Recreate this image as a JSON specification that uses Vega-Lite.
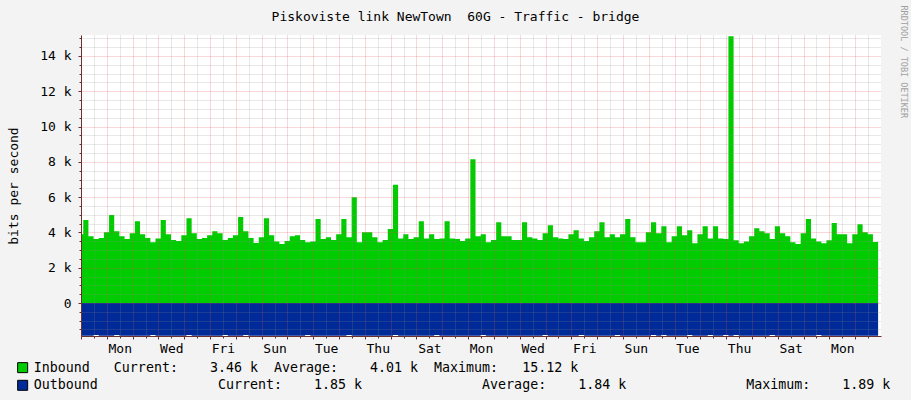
{
  "$schema": "https://vega.github.io/schema/vega-lite/v6.json",
  "width": 800,
  "height": 301,
  "autosize": {"type": "none"},
  "padding": {"left": 81, "top": 35, "right": 30, "bottom": 64},
  "background": "#f3f3f3",
  "config": {
    "font": "DejaVu Sans Mono",
    "view": {"stroke": null, "fill": "#ffffff"},
    "axis": {"labelFont": "DejaVu Sans Mono", "labelFontSize": 13, "labelColor": "#000000", "titleFont": "DejaVu Sans Mono", "titleFontSize": 13, "titleFontWeight": "normal", "titleColor": "#000000", "domainColor": "#6a3030", "tickColor": "#6a3030"}
  },
  "title": {"text": "Piskoviste link NewTown\u00a0 60G - Traffic - bridge", "anchor": "middle", "frame": "group", "dx": -25.5, "dy": 45, "offset": 16, "baseline": "alphabetic", "font": "DejaVu Sans Mono", "fontSize": 13, "fontWeight": "normal", "color": "#000000"},
  "data": {"values": [
    {"t":"2024-01-07T00:00:00Z","in":3890,"out":-1860},
    {"t":"2024-01-07T02:06:00Z","in":4700,"out":-1860},
    {"t":"2024-01-07T06:54:00Z","in":3780,"out":-1860},
    {"t":"2024-01-07T11:42:00Z","in":3630,"out":-1815},
    {"t":"2024-01-07T16:30:00Z","in":3680,"out":-1860},
    {"t":"2024-01-07T21:18:00Z","in":4010,"out":-1860},
    {"t":"2024-01-08T02:06:00Z","in":4990,"out":-1860},
    {"t":"2024-01-08T06:54:00Z","in":4070,"out":-1815},
    {"t":"2024-01-08T11:42:00Z","in":3780,"out":-1860},
    {"t":"2024-01-08T16:30:00Z","in":3630,"out":-1860},
    {"t":"2024-01-08T21:18:00Z","in":3950,"out":-1860},
    {"t":"2024-01-09T02:06:00Z","in":4640,"out":-1860},
    {"t":"2024-01-09T06:54:00Z","in":3890,"out":-1860},
    {"t":"2024-01-09T11:42:00Z","in":3680,"out":-1860},
    {"t":"2024-01-09T16:30:00Z","in":3440,"out":-1815},
    {"t":"2024-01-09T21:18:00Z","in":3660,"out":-1860},
    {"t":"2024-01-10T02:06:00Z","in":4700,"out":-1860},
    {"t":"2024-01-10T06:54:00Z","in":3890,"out":-1860},
    {"t":"2024-01-10T11:42:00Z","in":3570,"out":-1860},
    {"t":"2024-01-10T16:30:00Z","in":3510,"out":-1860},
    {"t":"2024-01-10T21:18:00Z","in":3840,"out":-1860},
    {"t":"2024-01-11T02:06:00Z","in":4810,"out":-1815},
    {"t":"2024-01-11T06:54:00Z","in":3950,"out":-1860},
    {"t":"2024-01-11T11:42:00Z","in":3630,"out":-1860},
    {"t":"2024-01-11T16:30:00Z","in":3680,"out":-1860},
    {"t":"2024-01-11T21:18:00Z","in":3840,"out":-1860},
    {"t":"2024-01-12T02:06:00Z","in":4070,"out":-1860},
    {"t":"2024-01-12T06:54:00Z","in":3950,"out":-1860},
    {"t":"2024-01-12T11:42:00Z","in":3570,"out":-1815},
    {"t":"2024-01-12T16:30:00Z","in":3680,"out":-1860},
    {"t":"2024-01-12T21:18:00Z","in":3840,"out":-1860},
    {"t":"2024-01-13T02:06:00Z","in":4870,"out":-1860},
    {"t":"2024-01-13T06:54:00Z","in":4070,"out":-1815},
    {"t":"2024-01-13T11:42:00Z","in":3680,"out":-1860},
    {"t":"2024-01-13T16:30:00Z","in":3400,"out":-1860},
    {"t":"2024-01-13T21:18:00Z","in":3720,"out":-1860},
    {"t":"2024-01-14T02:06:00Z","in":4810,"out":-1860},
    {"t":"2024-01-14T06:54:00Z","in":3840,"out":-1860},
    {"t":"2024-01-14T11:42:00Z","in":3490,"out":-1860},
    {"t":"2024-01-14T16:30:00Z","in":3340,"out":-1860},
    {"t":"2024-01-14T21:18:00Z","in":3510,"out":-1860},
    {"t":"2024-01-15T02:06:00Z","in":3780,"out":-1860},
    {"t":"2024-01-15T06:54:00Z","in":3840,"out":-1860},
    {"t":"2024-01-15T11:42:00Z","in":3570,"out":-1860},
    {"t":"2024-01-15T16:30:00Z","in":3440,"out":-1815},
    {"t":"2024-01-15T21:18:00Z","in":3490,"out":-1860},
    {"t":"2024-01-16T02:06:00Z","in":4760,"out":-1860},
    {"t":"2024-01-16T06:54:00Z","in":3630,"out":-1860},
    {"t":"2024-01-16T11:42:00Z","in":3720,"out":-1860},
    {"t":"2024-01-16T16:30:00Z","in":3570,"out":-1860},
    {"t":"2024-01-16T21:18:00Z","in":3890,"out":-1860},
    {"t":"2024-01-17T02:06:00Z","in":4760,"out":-1860},
    {"t":"2024-01-17T06:54:00Z","in":3720,"out":-1815},
    {"t":"2024-01-17T11:42:00Z","in":6000,"out":-1860},
    {"t":"2024-01-17T16:30:00Z","in":3440,"out":-1860},
    {"t":"2024-01-17T21:18:00Z","in":4010,"out":-1860},
    {"t":"2024-01-18T02:06:00Z","in":4010,"out":-1860},
    {"t":"2024-01-18T06:54:00Z","in":3720,"out":-1860},
    {"t":"2024-01-18T11:42:00Z","in":3440,"out":-1860},
    {"t":"2024-01-18T16:30:00Z","in":3570,"out":-1860},
    {"t":"2024-01-18T21:18:00Z","in":4200,"out":-1860},
    {"t":"2024-01-19T02:06:00Z","in":6700,"out":-1815},
    {"t":"2024-01-19T06:54:00Z","in":3660,"out":-1860},
    {"t":"2024-01-19T11:42:00Z","in":3890,"out":-1860},
    {"t":"2024-01-19T16:30:00Z","in":3630,"out":-1860},
    {"t":"2024-01-19T21:18:00Z","in":3720,"out":-1860},
    {"t":"2024-01-20T02:06:00Z","in":4640,"out":-1860},
    {"t":"2024-01-20T06:54:00Z","in":3660,"out":-1860},
    {"t":"2024-01-20T11:42:00Z","in":3890,"out":-1860},
    {"t":"2024-01-20T16:30:00Z","in":3630,"out":-1815},
    {"t":"2024-01-20T21:18:00Z","in":3660,"out":-1860},
    {"t":"2024-01-21T02:06:00Z","in":4640,"out":-1860},
    {"t":"2024-01-21T06:54:00Z","in":3660,"out":-1860},
    {"t":"2024-01-21T11:42:00Z","in":3630,"out":-1860},
    {"t":"2024-01-21T16:30:00Z","in":3510,"out":-1860},
    {"t":"2024-01-21T21:18:00Z","in":3660,"out":-1860},
    {"t":"2024-01-22T02:06:00Z","in":8150,"out":-1860},
    {"t":"2024-01-22T06:54:00Z","in":3780,"out":-1860},
    {"t":"2024-01-22T11:42:00Z","in":3890,"out":-1815},
    {"t":"2024-01-22T16:30:00Z","in":3440,"out":-1860},
    {"t":"2024-01-22T21:18:00Z","in":3570,"out":-1860},
    {"t":"2024-01-23T02:06:00Z","in":4580,"out":-1860},
    {"t":"2024-01-23T06:54:00Z","in":3780,"out":-1860},
    {"t":"2024-01-23T11:42:00Z","in":3780,"out":-1860},
    {"t":"2024-01-23T16:30:00Z","in":3570,"out":-1860},
    {"t":"2024-01-23T21:18:00Z","in":3570,"out":-1860},
    {"t":"2024-01-24T02:06:00Z","in":4580,"out":-1860},
    {"t":"2024-01-24T06:54:00Z","in":3720,"out":-1860},
    {"t":"2024-01-24T11:42:00Z","in":3660,"out":-1860},
    {"t":"2024-01-24T16:30:00Z","in":3570,"out":-1860},
    {"t":"2024-01-24T21:18:00Z","in":3950,"out":-1815},
    {"t":"2024-01-25T02:06:00Z","in":4410,"out":-1860},
    {"t":"2024-01-25T06:54:00Z","in":3720,"out":-1860},
    {"t":"2024-01-25T11:42:00Z","in":3660,"out":-1860},
    {"t":"2024-01-25T16:30:00Z","in":3630,"out":-1860},
    {"t":"2024-01-25T21:18:00Z","in":3890,"out":-1860},
    {"t":"2024-01-26T02:06:00Z","in":4120,"out":-1860},
    {"t":"2024-01-26T06:54:00Z","in":3660,"out":-1815},
    {"t":"2024-01-26T11:42:00Z","in":3510,"out":-1860},
    {"t":"2024-01-26T16:30:00Z","in":3720,"out":-1860},
    {"t":"2024-01-26T21:18:00Z","in":4070,"out":-1860},
    {"t":"2024-01-27T02:06:00Z","in":4580,"out":-1860},
    {"t":"2024-01-27T06:54:00Z","in":3720,"out":-1860},
    {"t":"2024-01-27T11:42:00Z","in":3890,"out":-1860},
    {"t":"2024-01-27T16:30:00Z","in":3720,"out":-1815},
    {"t":"2024-01-27T21:18:00Z","in":3890,"out":-1860},
    {"t":"2024-01-28T02:06:00Z","in":4760,"out":-1860},
    {"t":"2024-01-28T06:54:00Z","in":3720,"out":-1860},
    {"t":"2024-01-28T11:42:00Z","in":3440,"out":-1860},
    {"t":"2024-01-28T16:30:00Z","in":3440,"out":-1860},
    {"t":"2024-01-28T21:18:00Z","in":4010,"out":-1860},
    {"t":"2024-01-29T02:06:00Z","in":4580,"out":-1815},
    {"t":"2024-01-29T06:54:00Z","in":3950,"out":-1860},
    {"t":"2024-01-29T11:42:00Z","in":4350,"out":-1815},
    {"t":"2024-01-29T16:30:00Z","in":3440,"out":-1860},
    {"t":"2024-01-29T21:18:00Z","in":3780,"out":-1860},
    {"t":"2024-01-30T02:06:00Z","in":4350,"out":-1860},
    {"t":"2024-01-30T06:54:00Z","in":3840,"out":-1860},
    {"t":"2024-01-30T11:42:00Z","in":4120,"out":-1815},
    {"t":"2024-01-30T16:30:00Z","in":3380,"out":-1860},
    {"t":"2024-01-30T21:18:00Z","in":3890,"out":-1860},
    {"t":"2024-01-31T02:06:00Z","in":4350,"out":-1860},
    {"t":"2024-01-31T06:54:00Z","in":3660,"out":-1815},
    {"t":"2024-01-31T11:42:00Z","in":4350,"out":-1860},
    {"t":"2024-01-31T16:30:00Z","in":3660,"out":-1860},
    {"t":"2024-01-31T21:18:00Z","in":3630,"out":-1815},
    {"t":"2024-02-01T02:06:00Z","in":15120,"out":-1860},
    {"t":"2024-02-01T06:54:00Z","in":3550,"out":-1815},
    {"t":"2024-02-01T11:42:00Z","in":3380,"out":-1860},
    {"t":"2024-02-01T16:30:00Z","in":3490,"out":-1860},
    {"t":"2024-02-01T21:18:00Z","in":3780,"out":-1860},
    {"t":"2024-02-02T02:06:00Z","in":4240,"out":-1860},
    {"t":"2024-02-02T06:54:00Z","in":4070,"out":-1860},
    {"t":"2024-02-02T11:42:00Z","in":3950,"out":-1860},
    {"t":"2024-02-02T16:30:00Z","in":3630,"out":-1815},
    {"t":"2024-02-02T21:18:00Z","in":4350,"out":-1860},
    {"t":"2024-02-03T02:06:00Z","in":3950,"out":-1860},
    {"t":"2024-02-03T06:54:00Z","in":3780,"out":-1860},
    {"t":"2024-02-03T11:42:00Z","in":3440,"out":-1860},
    {"t":"2024-02-03T16:30:00Z","in":3340,"out":-1860},
    {"t":"2024-02-03T21:18:00Z","in":3950,"out":-1860},
    {"t":"2024-02-04T02:06:00Z","in":4760,"out":-1860},
    {"t":"2024-02-04T06:54:00Z","in":3660,"out":-1860},
    {"t":"2024-02-04T11:42:00Z","in":3490,"out":-1815},
    {"t":"2024-02-04T16:30:00Z","in":3380,"out":-1860},
    {"t":"2024-02-04T21:18:00Z","in":3550,"out":-1860},
    {"t":"2024-02-05T02:06:00Z","in":4530,"out":-1860},
    {"t":"2024-02-05T06:54:00Z","in":3890,"out":-1860},
    {"t":"2024-02-05T11:42:00Z","in":3890,"out":-1860},
    {"t":"2024-02-05T16:30:00Z","in":3380,"out":-1860},
    {"t":"2024-02-05T21:18:00Z","in":3890,"out":-1860},
    {"t":"2024-02-06T02:06:00Z","in":4470,"out":-1860},
    {"t":"2024-02-06T06:54:00Z","in":4010,"out":-1860},
    {"t":"2024-02-06T11:42:00Z","in":3890,"out":-1860},
    {"t":"2024-02-06T16:30:00Z","in":3460,"out":-1850},
    {"t":"2024-02-06T21:18:00Z","in":3460,"out":-1850}
  ]},
  "layer": [
    {
      "mark": {"type": "area", "interpolate": "step-after"},
      "encoding": {
        "x": {"field": "t", "type": "temporal", "scale": {"type": "utc", "domain": [1704585600000, 1707264000000]},
          "axis": {"orient": "bottom", "values": [1704628800000,1704715200000,1704801600000,1704888000000,1704974400000,1705060800000,1705147200000,1705233600000,1705320000000,1705406400000,1705492800000,1705579200000,1705665600000,1705752000000,1705838400000,1705924800000,1706011200000,1706097600000,1706184000000,1706270400000,1706356800000,1706443200000,1706529600000,1706616000000,1706702400000,1706788800000,1706875200000,1706961600000,1707048000000,1707134400000,1707220800000],
            "grid": true, "gridColor": "#8f8f8f", "gridOpacity": 0.4, "gridDash": [1, 1], "labels": false, "ticks": true, "tickSize": 2, "domain": false, "title": null, "zindex": 1}},
        "y": {"field": "out", "type": "quantitative", "scale": {"domain": [-1870, 15190], "nice": false, "zero": false},
          "axis": {"orient": "left", "values": [-1500,-1000,-500,500,1000,1500,2500,3000,3500,4500,5000,5500,6500,7000,7500,8500,9000,9500,10500,11000,11500,12500,13000,13500,14500,15000],
            "grid": true, "gridColor": "#8f8f8f", "gridOpacity": 0.4, "gridDash": [1, 1], "labels": false, "ticks": true, "tickSize": 2, "domain": false, "title": null, "zindex": 1}},
        "color": {"datum": "Outbound", "type": "nominal", "scale": {"domain": ["Inbound", "Outbound"], "range": ["#00cc00", "#002a97"]},
          "legend": {"orient": "none", "legendX": -65, "legendY": 326, "title": null, "direction": "vertical", "symbolType": "square", "symbolSize": 100, "symbolStrokeColor": "#000000", "symbolStrokeWidth": 1, "symbolOpacity": 1, "labelFont": "DejaVu Sans Mono", "labelFontSize": 13.3, "labelColor": "#000000", "labelLimit": 1000, "labelOffset": 4.5, "rowPadding": 2.65, "padding": 0,
            "labelExpr": "datum.label == 'Inbound' ? 'Inbound\u00a0\u00a0\u00a0Current:\u00a0\u00a0\u00a0\u00a03.46\u00a0k\u00a0\u00a0Average:\u00a0\u00a0\u00a0\u00a04.01\u00a0k\u00a0\u00a0Maximum:\u00a0\u00a0\u00a015.12\u00a0k' : 'Outbound\u00a0\u00a0\u00a0\u00a0\u00a0\u00a0\u00a0\u00a0\u00a0\u00a0\u00a0\u00a0\u00a0\u00a0\u00a0Current:\u00a0\u00a0\u00a0\u00a01.85\u00a0k\u00a0\u00a0\u00a0\u00a0\u00a0\u00a0\u00a0\u00a0\u00a0\u00a0\u00a0\u00a0\u00a0\u00a0\u00a0Average:\u00a0\u00a0\u00a0\u00a01.84\u00a0k\u00a0\u00a0\u00a0\u00a0\u00a0\u00a0\u00a0\u00a0\u00a0\u00a0\u00a0\u00a0\u00a0\u00a0\u00a0Maximum:\u00a0\u00a0\u00a0\u00a01.89\u00a0k'"}}
      }
    },
    {
      "mark": {"type": "area", "interpolate": "step-after"},
      "encoding": {
        "x": {"field": "t", "type": "temporal",
          "axis": {"orient": "bottom", "values": [1704585600000,1704672000000,1704758400000,1704844800000,1704931200000,1705017600000,1705104000000,1705190400000,1705276800000,1705363200000,1705449600000,1705536000000,1705622400000,1705708800000,1705795200000,1705881600000,1705968000000,1706054400000,1706140800000,1706227200000,1706313600000,1706400000000,1706486400000,1706572800000,1706659200000,1706745600000,1706832000000,1706918400000,1707004800000,1707091200000,1707177600000],
            "grid": true, "gridColor": "#de5050", "gridOpacity": 0.45, "gridDash": [1, 1], "labels": true, "labelExpr": "round((datum.value - 1704585600000) / 86400000) % 2 == 1 ? utcFormat(datum.value, '%a') : ''", "labelOffset": 12.9, "labelPadding": 3, "labelFlush": false, "labelOverlap": false, "ticks": true, "tickSize": 3, "domain": true, "title": null, "zindex": 1}},
        "y": {"field": "in", "type": "quantitative",
          "axis": {"orient": "left", "values": [0,2000,4000,6000,8000,10000,12000,14000],
            "grid": true, "gridColor": "#de5050", "gridOpacity": 0.45, "gridDash": [1, 1], "labelExpr": "datum.value == 0 ? '0' : format(datum.value / 1000, 'd') + ' k'", "labelPadding": 7, "ticks": true, "tickSize": 3, "domain": true, "title": "bits per second", "titlePadding": 19, "zindex": 1}},
        "color": {"datum": "Inbound", "type": "nominal"}
      }
    },
    {
      "mark": {"type": "area", "interpolate": "step-after", "opacity": 0},
      "encoding": {
        "x": {"field": "t", "type": "temporal", "axis": null},
        "y": {"field": "in", "type": "quantitative",
          "axis": {"orient": "right", "labels": false, "ticks": false, "domain": false, "grid": false, "title": "RRDTOOL / TOBI OETIKER", "titleAngle": 90, "titleX": 22, "titleY": -30, "titleAlign": "left", "titleBaseline": "middle", "titleFontSize": 8.5, "titleColor": "#a0a0a0"}}
      }
    }
  ],
  "resolve": {"axis": {"x": "independent", "y": "independent"}}
}
